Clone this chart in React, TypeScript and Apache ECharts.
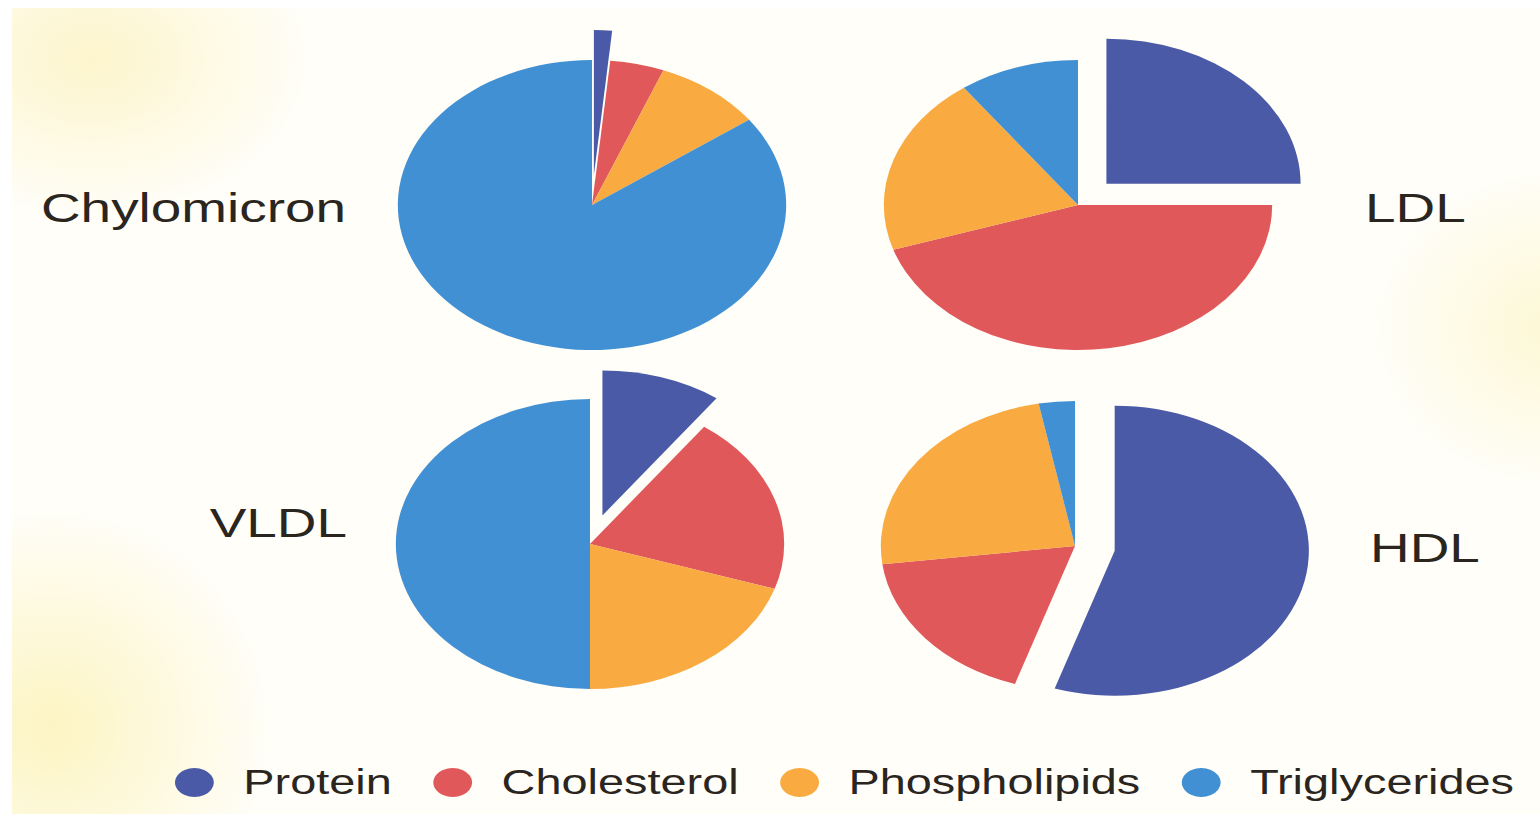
import React, { useEffect, useRef } from "react";
import * as echarts from "echarts";

// ---- data ----
const categories = ["Protein", "Cholesterol", "Phospholipids", "Triglycerides"];
const chylomicronValues = [1.5, 4.5, 9, 85];
const ldlValues = [25, 45, 20, 10];
const vldlValues = [10, 20, 20, 50];
const hdlValues = [55, 18, 24, 3];
const lipoproteinNames = ["Chylomicron", "LDL", "VLDL", "HDL"];

// ---- layout / style ----
const PAGE_W = 1540;
const PAGE_H = 814;
const INNER_W = 1150; // chart drawn narrower, then stretched horizontally like the reference
const SX = PAGE_W / INNER_W;
const ux = (x: number) => x / SX;

const COLORS = ["#4b5aa6", "#e1585b", "#f9aa40", "#4190d3"];
const TEXT_COLOR = "#2b2520";
const FONT = "'Liberation Sans', Arial, sans-serif";

function pieSeries(name: string, values: number[], cx: number, cy: number) {
  return {
    name,
    type: "pie",
    center: [ux(cx), cy],
    radius: 145,
    startAngle: 90,
    clockwise: true,
    selectedMode: "multiple",
    selectedOffset: 30,
    label: { show: false },
    labelLine: { show: false },
    emphasis: { disabled: true },
    itemStyle: { borderWidth: 0 },
    data: categories.map((c, i) => ({
      name: c,
      value: values[i],
      selected: i === 0,
    })),
  };
}

export default function App() {
  const ref = useRef<HTMLDivElement>(null);

  useEffect(() => {
    if (!ref.current) return;
    const chart = echarts.init(ref.current, null, { renderer: "svg" });
    const titleStyle = { fontSize: 41, fontFamily: FONT, fill: TEXT_COLOR };
    chart.setOption({
      animation: false,
      color: COLORS,
      backgroundColor: "transparent",
      legend: {
        data: categories,
        left: ux(175),
        top: 765,
        padding: 0,
        icon: "circle",
        itemWidth: 29,
        itemHeight: 29,
        itemGap: 31,
        selectedMode: false,
        textStyle: {
          fontSize: 35,
          fontFamily: FONT,
          color: TEXT_COLOR,
          padding: [0, 0, 0, 17],
        },
      },
      graphic: [
        {
          type: "text",
          x: ux(346),
          y: 208,
          style: { ...titleStyle, text: lipoproteinNames[0], textAlign: "right", textVerticalAlign: "middle" },
        },
        {
          type: "text",
          x: ux(1365),
          y: 208,
          style: { ...titleStyle, text: lipoproteinNames[1], textAlign: "left", textVerticalAlign: "middle" },
        },
        {
          type: "text",
          x: ux(347),
          y: 523,
          style: { ...titleStyle, text: lipoproteinNames[2], textAlign: "right", textVerticalAlign: "middle" },
        },
        {
          type: "text",
          x: ux(1370),
          y: 548,
          style: { ...titleStyle, text: lipoproteinNames[3], textAlign: "left", textVerticalAlign: "middle" },
        },
      ],
      series: [
        pieSeries(lipoproteinNames[0], chylomicronValues, 592, 205),
        pieSeries(lipoproteinNames[1], ldlValues, 1078, 205),
        pieSeries(lipoproteinNames[2], vldlValues, 590, 544),
        pieSeries(lipoproteinNames[3], hdlValues, 1075, 546),
      ],
    });
    return () => chart.dispose();
  }, []);

  const background = [
    "radial-gradient(ellipse 220px 160px at 80px 50px, rgba(250,236,160,0.5), rgba(255,255,255,0) 100%)",
    "radial-gradient(ellipse 220px 220px at 40px 720px, rgba(250,236,150,0.55), rgba(255,255,255,0) 100%)",
    "radial-gradient(ellipse 180px 160px at 1540px 320px, rgba(250,240,170,0.45), rgba(255,255,255,0) 100%)",
    "linear-gradient(#fffef8, #fffef8)",
  ].join(",");

  return (
    <div
      style={{
        position: "fixed",
        left: 0,
        top: 0,
        width: PAGE_W,
        height: PAGE_H,
        overflow: "hidden",
        background: "#ffffff",
      }}
    >
      <div
        style={{
          position: "absolute",
          left: 12,
          top: 8,
          width: PAGE_W - 12,
          height: PAGE_H - 8,
          background,
        }}
      />
      <div
        ref={ref}
        style={{
          position: "absolute",
          left: 0,
          top: 0,
          width: INNER_W,
          height: PAGE_H,
          transform: `scaleX(${SX})`,
          transformOrigin: "0 0",
        }}
      />
    </div>
  );
}
